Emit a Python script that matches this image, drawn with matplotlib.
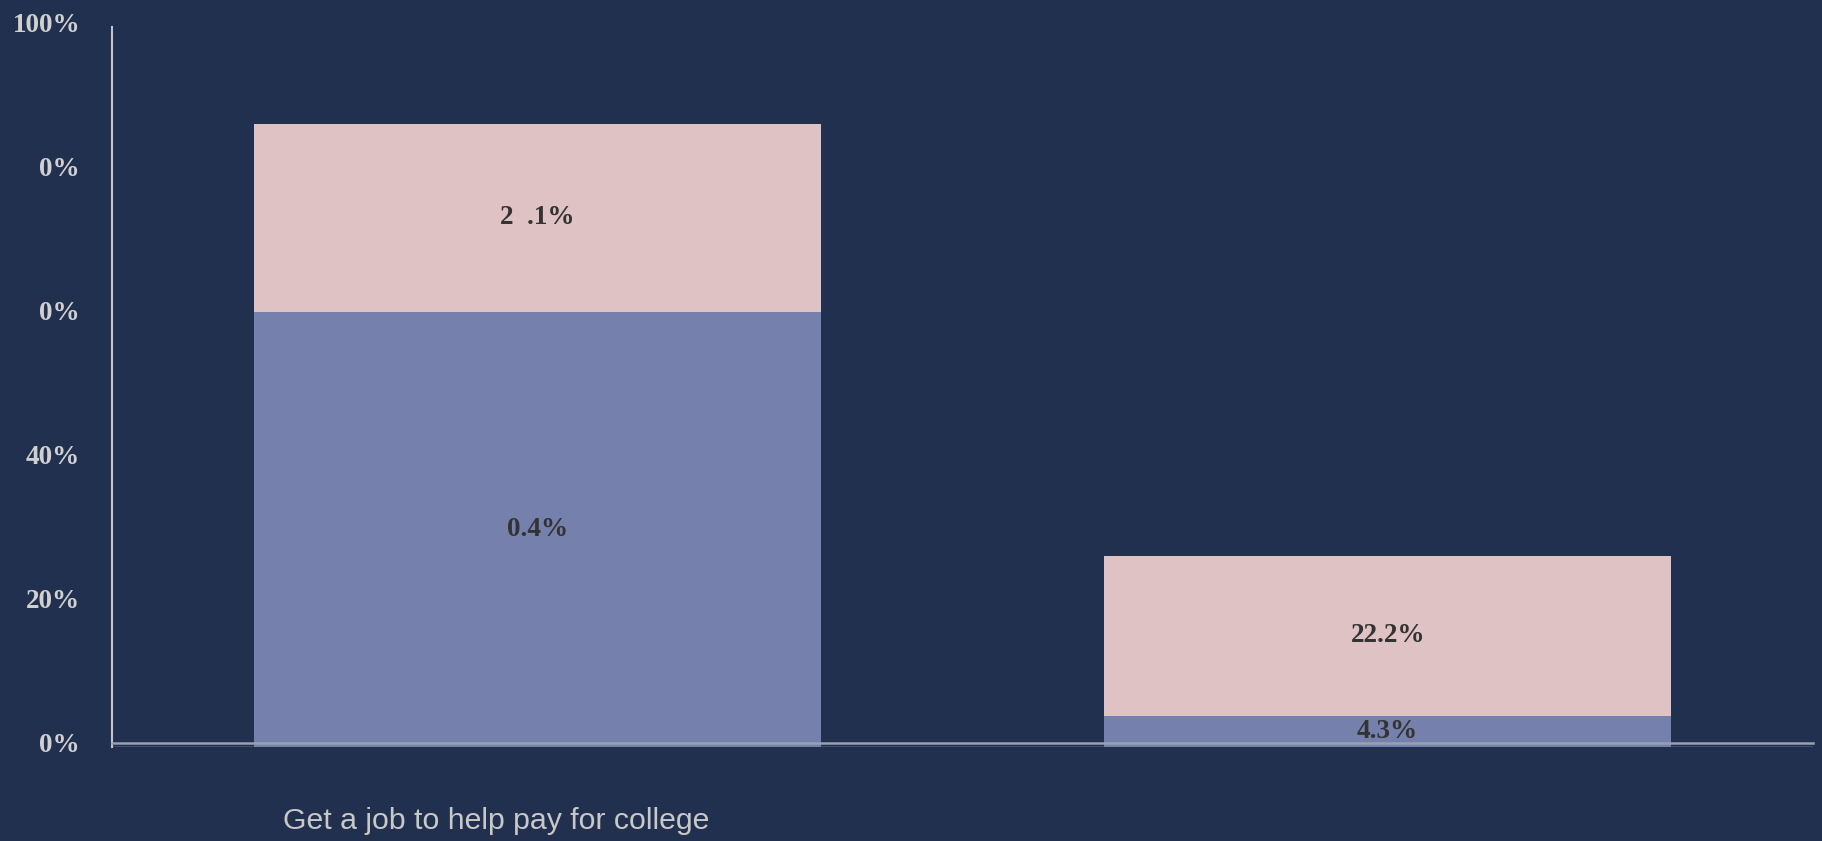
import numpy as np
import matplotlib.pyplot as plt
from matplotlib.transforms import ScaledTranslation

# data
categories = ["Get a job to help pay for college", ""]
bottom_vals = [60.4, 4.3]
top_vals = [26.1, 22.2]
bottom_labels = ["0.4%", "4.3%"]
top_labels = ["2  .1%", "22.2%"]
ytick_vals = [0, 20, 40, 60, 80, 100]
ytick_labels = ["0%", "20%", "40%", "0%", "0%", "100%"]

bg = '#21304e'
pink = '#dfc3c4'
blue = '#7580ad'

fig = plt.figure(figsize=(18.22, 8.41), dpi=100, facecolor=bg)
ax = fig.add_axes([0.0615, 0.1121, 0.9335, 0.8562])
ax.set_facecolor(bg)

x = np.arange(len(categories))
w = 0.667
ax.bar(x, bottom_vals, width=w, color=blue, zorder=2)
ax.bar(x, top_vals, width=w, bottom=bottom_vals, color=pink, zorder=2)

serif = dict(family='Liberation Serif', weight='bold', size=19.5)
for i in range(len(x)):
    ax.text(x[i], bottom_vals[i] / 2, bottom_labels[i], ha='center', va='center',
            color='#333333', zorder=4, **serif)
    ax.text(x[i], bottom_vals[i] + top_vals[i] / 2, top_labels[i], ha='center', va='center',
            color='#333333', zorder=4, **serif)

ax.set_xlim(-0.5, 1.5)
ax.set_ylim(0, 100)

# axes lines
for s in ['top', 'right']:
    ax.spines[s].set_visible(False)
ax.spines['left'].set_color('#c4c4c8')
ax.spines['left'].set_linewidth(1.5)
ax.spines['bottom'].set_color('#9aa0b0')
ax.spines['bottom'].set_linewidth(1.8)
ax.spines['bottom'].set_position(('data', 0.55))
ax.spines['bottom'].set_zorder(3)
ax.axhline(0, color='#4a5570', lw=1.2, zorder=1)

ax.set_yticks(ytick_vals, ytick_labels)
ax.tick_params(axis='y', length=0, pad=23, colors='#d0d0d0')
for lab in ax.get_yticklabels():
    lab.set_family('Liberation Serif')
    lab.set_weight('bold')
    lab.set_size(19.5)
    lab.set_transform(lab.get_transform() + ScaledTranslation(0, 4.5 / 100, fig.dpi_scale_trans))

ax.set_xticks([])
for i in range(len(x)):
    ax.annotate(categories[i], xy=(x[i], 0), xycoords=('data', 'axes fraction'),
                xytext=(-29.5, -53.3), textcoords='offset points', ha='center', va='center',
                color='#c8c8c8', family='Liberation Sans', fontsize=21.8)

fig.savefig('out.png', dpi=100, facecolor=bg)
